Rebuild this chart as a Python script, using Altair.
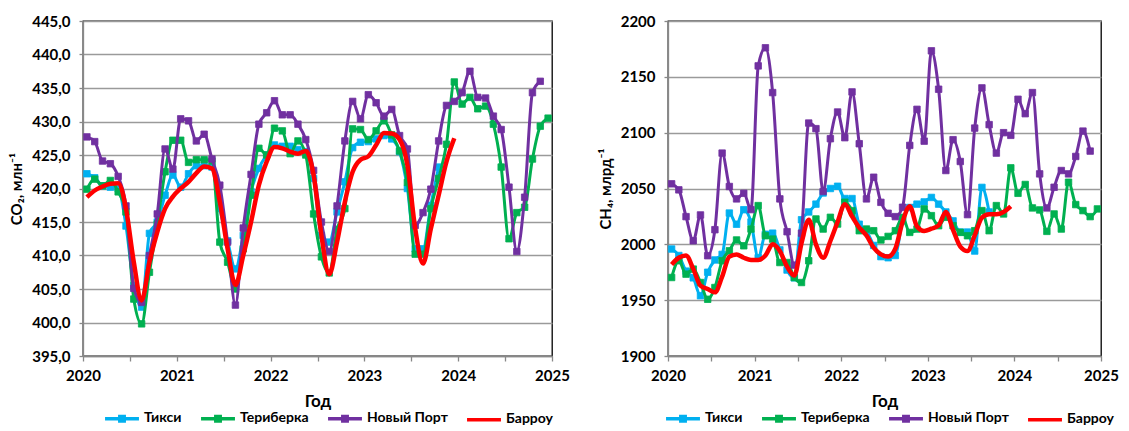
import altair as alt
import pandas as pd

SERIES = ["Тикси", "Териберка", "Новый Порт", "Барроу"]
COLORS = ["#00B0F0", "#00B050", "#7030A0", "#FF0000"]

# Monthly values, index 0 = Jan 2020
co2_tiksi = [422.2, 421.6, 420.4, 420.2, 420.0, 414.4, 405.5, 402.3, 413.3, 415.0, 419.0, 422.0,
             420.2, 422.2, 423.4, 423.4, 423.2, 417.0, 412.2, 408.0, 413.0, 419.5, 423.0, 425.0,
             426.5, 426.3, 426.3, 425.8, 425.5, 421.5, 413.0, 412.0, 416.5, 421.0, 426.1, 426.9,
             427.0, 427.4, 427.9, 427.4, 425.5, 420.0, 411.0, 411.0, 417.5, 423.2]
co2_teriberka = [419.9, 421.4, 420.4, 421.2, 419.5, 416.5, 403.5, 399.8, 407.5, 414.7, 422.5, 427.2,
                 427.2, 423.9, 424.3, 424.3, 424.1, 412.0, 409.0, 405.0, 411.0, 419.0, 426.0, 425.0,
                 429.0, 428.6, 425.2, 427.1, 425.0, 416.2, 409.8, 407.4, 413.9, 417.0, 428.9, 428.8,
                 427.3, 428.6, 430.1, 428.0, 425.6, 420.9, 410.2, 410.2, 417.0, 421.5, 426.6, 435.9,
                 432.6, 433.6, 431.9, 432.3, 429.6, 423.2, 412.5, 416.4, 417.2, 424.4, 429.3, 430.5]
co2_novyport = [427.7, 427.0, 424.1, 423.7, 421.8, 417.4, 405.1, 403.0, 410.0, 416.2, 425.9, 422.9,
                430.4, 430.1, 427.1, 428.1, 424.4, 420.5, 412.0, 402.6, 414.1, 422.1, 429.6, 431.3,
                433.1, 431.0, 431.0, 429.6, 427.3, 422.7, 415.0, 410.6, 417.4, 427.1, 433.0, 430.4,
                434.0, 432.8, 430.8, 431.8, 427.9, 425.9, 414.5, 416.4, 419.9, 427.1, 432.4, 433.0,
                434.3, 437.5, 433.6, 433.5, 430.8, 428.8, 420.2, 410.6, 418.7, 434.3, 436.0]
co2_barrow = [418.7, 419.7, 420.3, 420.7, 420.8, 417.0, 409.0, 403.3, 409.0, 413.5, 417.0, 418.8,
              420.0, 421.0, 422.3, 423.3, 423.0, 418.0, 411.0, 405.6, 410.0, 415.0, 420.5, 424.0,
              426.2, 426.0, 425.5, 425.2, 425.6, 422.0, 413.0, 407.2, 412.0, 418.0, 422.5, 424.3,
              424.8, 426.5, 428.3, 428.2, 427.3, 423.5, 414.0, 408.8, 414.0, 419.0, 424.0, 427.5]

ch4_tiksi = [1995.8, 1990.0, 1976.0, 1970.0, 1954.0, 1975.0, 1986.0, 1991.0, 2028.0, 2018.0, 2031.0, 2020.0,
             1988.0, 2009.0, 2010.0, 1995.0, 1977.0, 1970.0, 2022.0, 2029.0, 2036.0, 2046.0, 2050.0, 2052.0,
             2041.0, 2041.0, 2018.0, 2012.0, 1999.0, 1989.0, 1988.0, 1990.0, 2021.0, 2033.0, 2036.0, 2038.0,
             2042.0, 2036.0, 2029.0, 2021.0, 2011.0, 2011.0, 1994.0, 2051.0, 2029.0]
ch4_teriberka = [1970.3, 1985.3, 1973.3, 1977.8, 1965.8, 1950.8, 1961.3, 1985.3, 1994.2, 2003.9, 1998.7, 2013.7,
                 2034.7, 2007.7, 2004.7, 1983.7, 1983.7, 1970.3, 1965.8, 1985.3, 2022.7, 2013.7, 2024.2, 2018.2,
                 2037.7, 2030.2, 2012.2, 2013.7, 2012.2, 2003.9, 2007.1, 2012.2, 2024.2, 2010.7, 2013.7, 2031.7,
                 2025.7, 2016.7, 2024.2, 2016.7, 2010.7, 2007.7, 2012.2, 2030.2, 2012.2, 2034.7, 2027.2, 2068.5,
                 2045.7, 2053.6, 2032.6, 2030.8, 2011.6, 2027.2, 2013.7, 2055.6, 2035.6, 2030.2, 2024.8, 2031.7]
ch4_novyport = [2054.2, 2048.8, 2024.8, 2003.2, 2026.3, 1989.8, 2013.1, 2081.7, 2051.8, 2040.7, 2045.7, 2031.1,
                2159.8, 2176.0, 2135.9, 2040.7, 2011.3, 1981.4, 2010.0, 2108.6, 2103.6, 2047.3, 2094.6, 2118.5,
                2095.5, 2136.5, 2090.1, 2040.7, 2060.1, 2037.6, 2027.8, 2024.8, 2033.2, 2088.6, 2120.9, 2092.4,
                2173.3, 2138.9, 2066.1, 2093.7, 2074.2, 2026.6, 2104.1, 2140.1, 2107.2, 2081.7, 2100.0, 2097.6,
                2129.9, 2117.0, 2135.9, 2063.1, 2032.6, 2051.1, 2066.1, 2063.1, 2078.7, 2101.4, 2083.5]
ch4_barrow = [1982, 1988, 1990, 1978, 1963, 1960, 1957, 1971, 1989, 1991, 1988, 1986,
              1986, 1990, 2000, 1994, 1980, 1972, 2001, 2022, 2000, 1988, 2003, 2020,
              2036, 2025, 2015, 2008, 1997, 1991, 1989, 1996, 2020, 2034, 2016, 2012,
              2014, 2017, 2029, 2013, 1998, 1994, 2008, 2024, 2027, 2027, 2029, 2034]

co2_ticks = [395, 400, 405, 410, 415, 420, 425, 430, 435, 440, 445]
ch4_ticks = [1900, 1950, 2000, 2050, 2100, 2150, 2200]
x_ticks = [2020, 2020.5, 2021, 2021.5, 2022, 2022.5, 2023, 2023.5, 2024, 2024.5, 2025]

FONT = "Lato"
# legend symbols (size 1150 -> 34px box); drawn slightly below the box centre to line up
# with labels that hang from the centre (labelBaseline="top")
MARKER_LINE = ("M-1,0.45H1M-0.13,0.32H0.13V0.58H-0.13Z"
               "M-0.05,0.40H0.05V0.50H-0.05Z")
PLAIN_LINE = "M-1,0.45H1"


def frame(values_by_series):
    rows = []
    for name, vals in values_by_series.items():
        for i, v in enumerate(vals):
            rows.append({"t": 2020 + (i + 0.5) / 12, "v": v, "s": name})
    return pd.DataFrame(rows)


def panel(df, domain, ticks, ytitle, ylabel_expr, width, height, legend_x, legend_y):
    x = alt.X("t:Q", scale=alt.Scale(domain=[2020, 2025], nice=False, zero=False),
              axis=alt.Axis(values=x_ticks, labelExpr="datum.value % 1 == 0 ? datum.value : ''",
                            labelFlush=False, title="Год", grid=False, tickSize=5, labelPadding=7,
                            titleFontSize=17, titlePadding=10))
    y = alt.Y("v:Q", scale=alt.Scale(domain=domain, nice=False, zero=False),
              axis=alt.Axis(values=ticks, labelExpr=ylabel_expr, title=ytitle, grid=True,
                            tickSize=4, labelPadding=9, titlePadding=7, titleFontSize=15))
    layers = []
    for name, col in zip(SERIES, COLORS):
        sub = df[df.s == name]
        if name == "Барроу":
            layers.append(alt.Chart(sub).mark_line(strokeWidth=4.5, interpolate="monotone", color=col)
                          .encode(x=x, y=y))
        else:
            layers.append(alt.Chart(sub).mark_line(strokeWidth=3, interpolate="monotone", color=col)
                          .encode(x=x, y=y))
            layers.append(alt.Chart(sub).mark_point(shape="square", filled=True, size=42, opacity=1,
                                                    stroke=col, strokeWidth=0.8, fill=col)
                          .encode(x=x, y=y))
    legend = alt.Legend(title=None, orient="none", legendX=legend_x, legendY=legend_y,
                        direction="horizontal", columns=4, columnPadding=12,
                        symbolSize=1150, symbolStrokeWidth=3.5, symbolOpacity=1, labelOffset=3,
                        labelFont=FONT, labelFontSize=14, labelFontWeight="bold",
                        labelBaseline="top", labelColor="black", padding=0)
    legend_layer = (alt.Chart(df).mark_point(filled=False, opacity=1, strokeWidth=3.5)
                    .encode(x=x, y=y,
                            color=alt.Color("s:N", scale=alt.Scale(domain=SERIES, range=COLORS),
                                            legend=legend),
                            shape=alt.Shape("s:N", scale=alt.Scale(
                                domain=SERIES,
                                range=[MARKER_LINE, MARKER_LINE, MARKER_LINE, PLAIN_LINE]),
                                legend=legend))
                    .transform_filter("false"))
    layers.append(legend_layer)
    return alt.layer(*layers).properties(width=width, height=height)


co2_df = frame({"Тикси": co2_tiksi, "Териберка": co2_teriberka,
                "Новый Порт": co2_novyport, "Барроу": co2_barrow})
ch4_df = frame({"Тикси": ch4_tiksi, "Териберка": ch4_teriberka,
                "Новый Порт": ch4_novyport, "Барроу": ch4_barrow})

left = panel(co2_df, [395, 445], co2_ticks, "CO₂, млн⁻¹",
             "replace(format(datum.value, '.1f'), '.', ',')", 469, 335, 20, 371)
right = panel(ch4_df, [1900, 2200], ch4_ticks, "CH₄, млрд⁻¹",
              "format(datum.value, 'd')", 433, 335, -4, 371)

chart = (alt.hconcat(left, right, spacing=26)
         .resolve_scale(color="independent", shape="independent")
         .resolve_legend(color="independent", shape="independent")
         .properties(padding={"left": 1, "top": 5, "right": 0, "bottom": 0})
         .configure(font=FONT)
         .configure_view(stroke="black", strokeWidth=1.3)
         .configure_axis(labelFont=FONT, labelFontWeight="bold", labelFontSize=15, labelColor="black",
                         titleFont=FONT, titleFontWeight="bold", titleColor="black",
                         domainColor="#888888", domainWidth=1.3, tickColor="#888888", tickWidth=1.3,
                         gridColor="#9a9a9a", gridWidth=1.3))

chart.save("out.html", embed_options={"renderer": "svg", "actions": False})
